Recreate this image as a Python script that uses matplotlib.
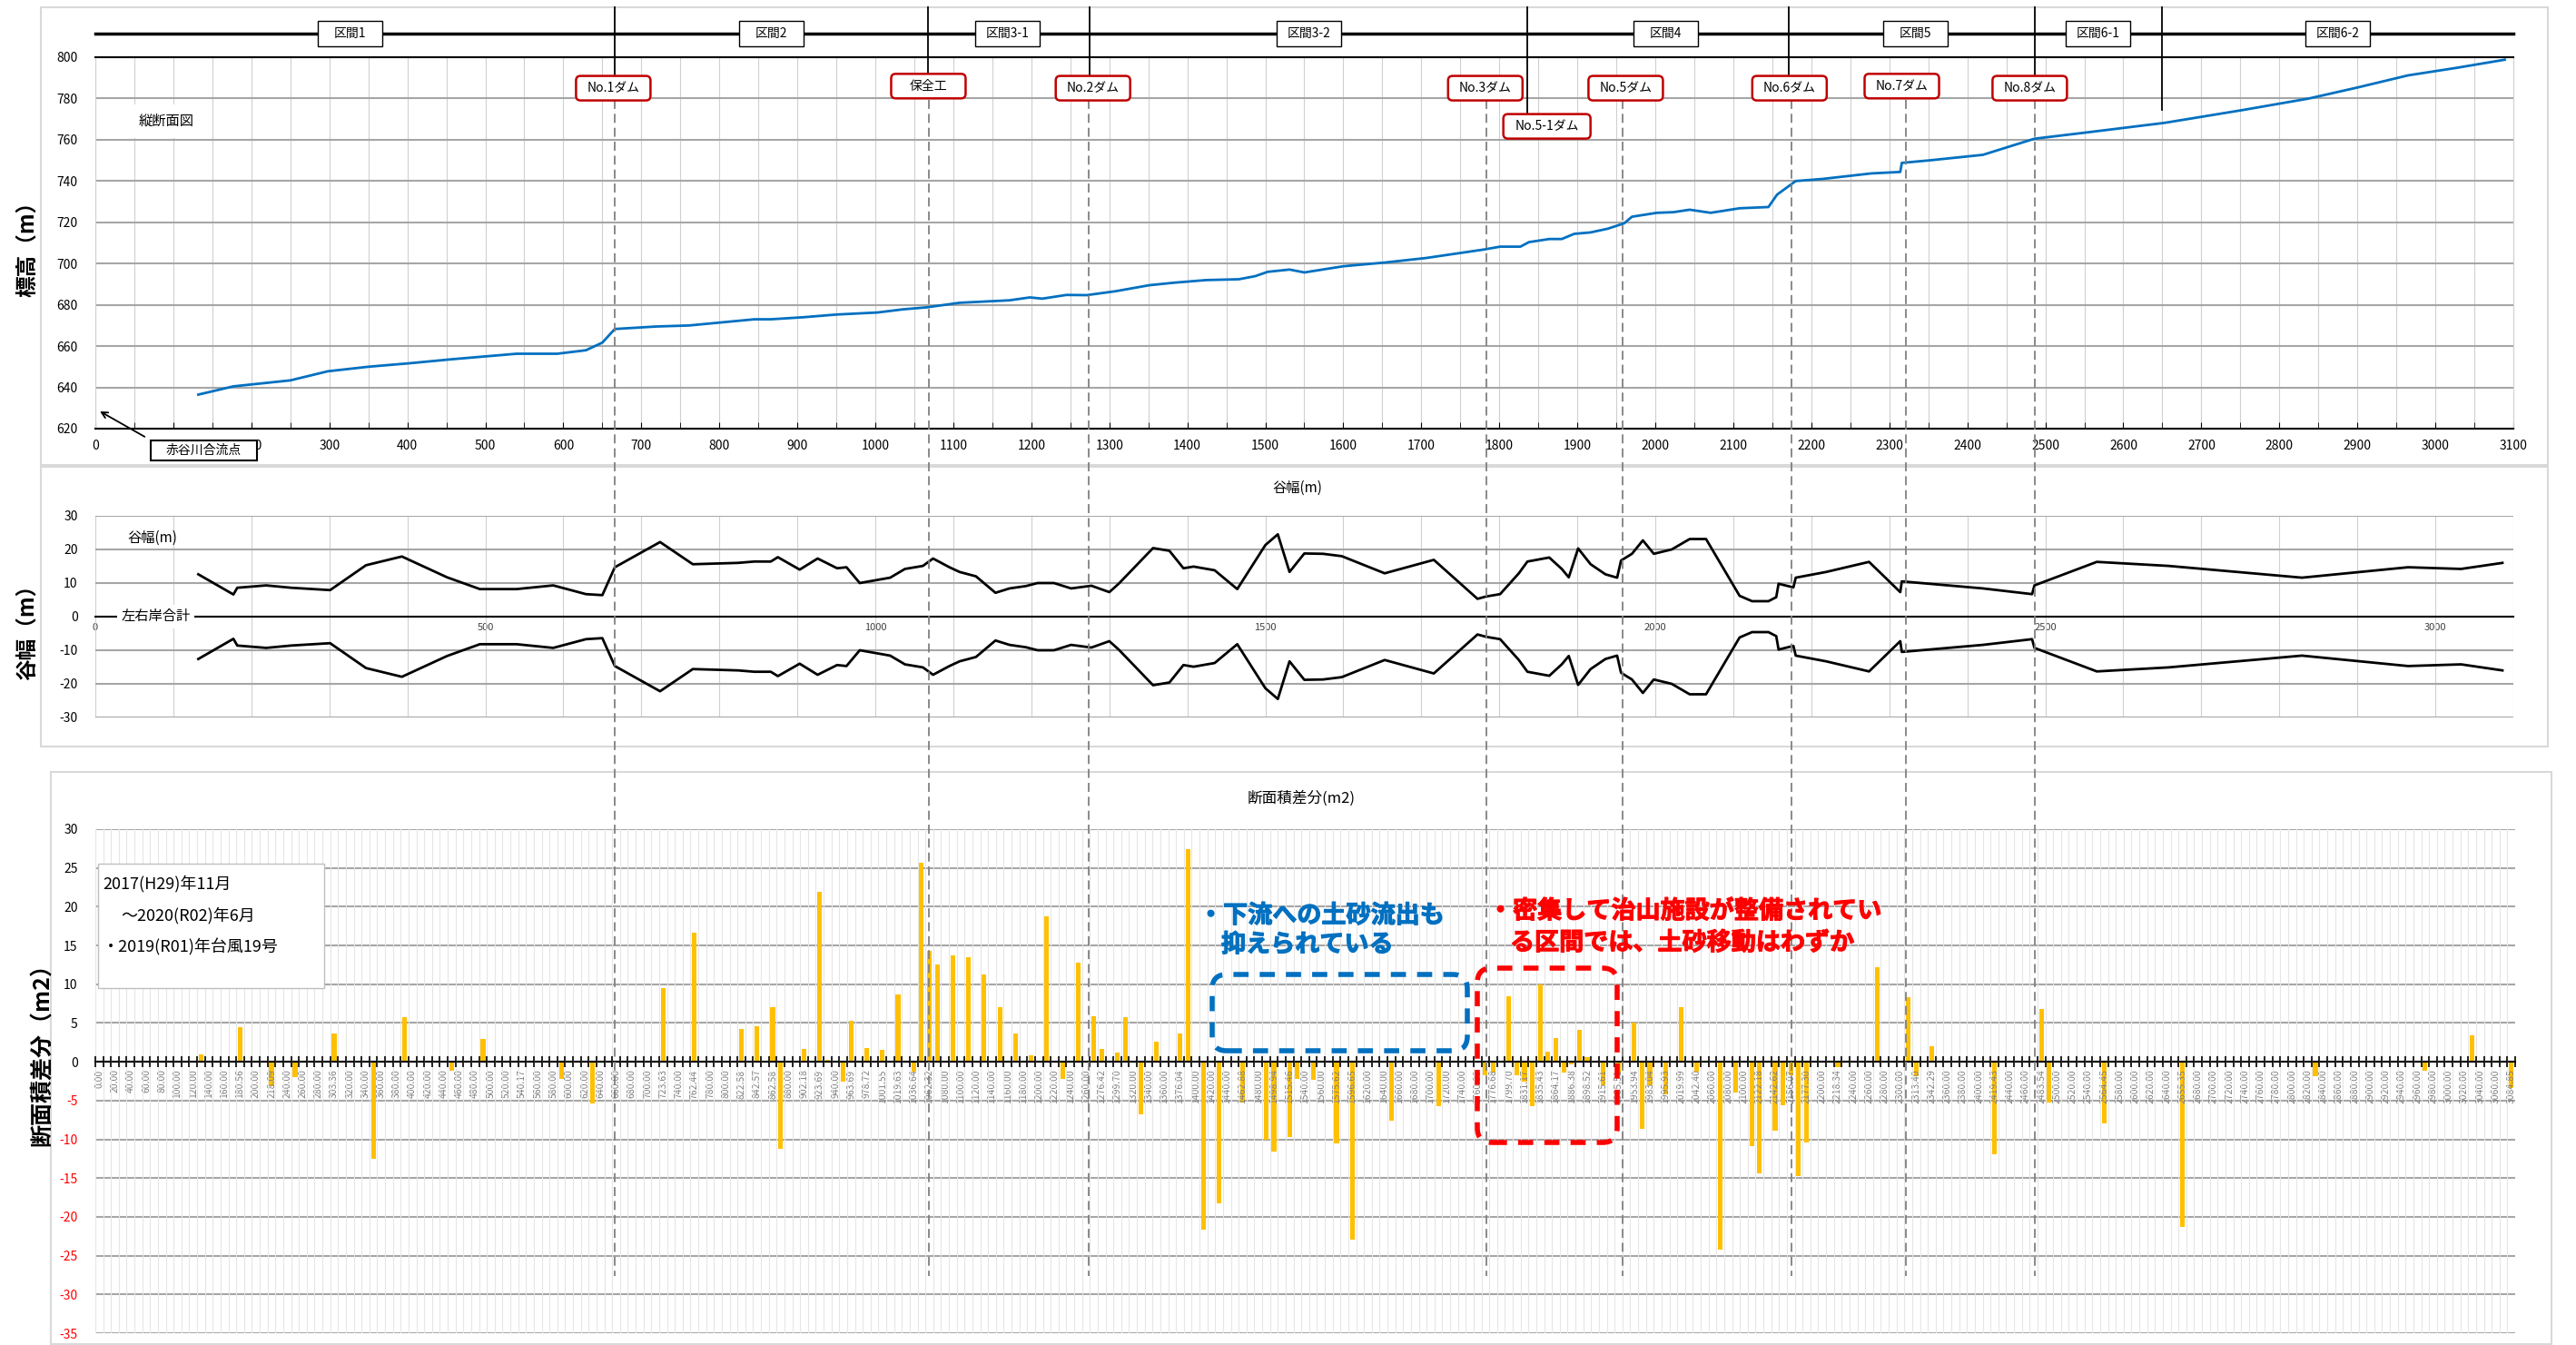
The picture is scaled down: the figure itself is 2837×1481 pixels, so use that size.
import numpy as np
import matplotlib
matplotlib.use("Agg")
import matplotlib.pyplot as plt
import matplotlib.patheffects as pe
from matplotlib.patches import Rectangle, FancyBboxPatch
from matplotlib.lines import Line2D
from matplotlib.transforms import IdentityTransform

plt.rcParams['font.family'] = ['Noto Sans CJK JP', 'DejaVu Sans']
plt.rcParams['axes.unicode_minus'] = False

# ---- 縦断面図 (距離 m, 標高 m)
elev_dist = [132, 177, 250, 298, 350, 403, 456, 540, 592, 629, 650, 666, 719, 761, 803, 845,
             866, 908, 950, 1003, 1035, 1066, 1108, 1172, 1198, 1214, 1245, 1271, 1308, 1351,
             1382, 1424, 1466, 1487, 1503, 1531, 1550, 1600, 1653, 1706, 1780, 1801, 1827,
             1838, 1864, 1880, 1896, 1917, 1939, 1960, 1970, 2002, 2023, 2044, 2071, 2108,
             2145, 2156, 2180, 2214, 2277, 2314, 2316, 2351, 2420, 2486, 2552, 2653, 2753,
             2838, 2901, 2965, 3028, 3089]
elev_val = [636.5, 640.5, 643.4, 647.8, 650.0, 651.7, 653.6, 656.3, 656.3, 658.0, 661.7, 668.3,
            669.5, 670.0, 671.5, 673.0, 673.0, 674.0, 675.3, 676.3, 677.8, 678.8, 681.0, 682.2,
            683.6, 683.0, 684.8, 684.7, 686.6, 689.5, 690.7, 692.0, 692.4, 693.9, 696.0, 697.1,
            695.7, 698.7, 700.5, 702.7, 706.8, 708.2, 708.2, 710.4, 711.9, 711.9, 714.4, 715.1,
            716.9, 719.5, 722.7, 724.6, 724.9, 726.1, 724.6, 726.8, 727.4, 733.4, 740.0, 741.0,
            743.7, 744.4, 748.8, 750.0, 752.7, 760.5, 763.5, 768.2, 774.4, 780.0, 785.4, 791.2,
            794.9, 798.8]

# ---- 谷幅 (距離 m, 谷幅 m)
width_dist = [132, 177, 182, 219, 251, 301, 347, 393, 451, 493, 540, 587, 629, 650, 666, 724,
              766, 824, 845, 866, 875, 903, 926, 951, 963, 980, 1019, 1038, 1061, 1074, 1095,
              1108, 1129, 1154, 1172, 1193, 1208, 1229, 1251, 1277, 1300, 1312, 1356, 1377,
              1395, 1408, 1435, 1464, 1500, 1516, 1531, 1550, 1574, 1598, 1653, 1716, 1772,
              1783, 1801, 1825, 1836, 1864, 1880, 1889, 1901, 1917, 1936, 1951, 1956, 1970,
              1984, 1998, 2021, 2044, 2065, 2108, 2124, 2145, 2155, 2158, 2177, 2180, 2219,
              2274, 2314, 2316, 2420, 2483, 2486, 2566, 2658, 2829, 2965, 3033, 3086]
width_val = [12.6, 6.6, 8.6, 9.3, 8.6, 7.9, 15.3, 17.9, 11.7, 8.2, 8.2, 9.3, 6.7, 6.4, 14.7,
             22.2, 15.6, 16.0, 16.4, 16.4, 17.7, 14.0, 17.3, 14.4, 14.7, 10.0, 11.6, 14.2, 15.1,
             17.3, 14.7, 13.3, 12.0, 7.1, 8.4, 9.1, 10.0, 10.0, 8.4, 9.2, 7.3, 9.8, 20.4, 19.6,
             14.4, 14.9, 13.8, 8.2, 21.3, 24.5, 13.3, 18.8, 18.7, 18.0, 12.9, 16.9, 5.3, 6.0,
             6.7, 12.9, 16.4, 17.6, 14.2, 11.7, 20.3, 15.6, 12.6, 11.6, 16.7, 18.7, 22.7, 18.7,
             20.0, 23.1, 23.1, 6.2, 4.6, 4.6, 5.8, 9.8, 8.7, 11.6, 13.3, 16.3, 7.3, 10.5, 8.4,
             6.7, 9.3, 16.3, 15.1, 11.6, 14.7, 14.2, 16.0]

# ---- 断面積差分 (測点ラベルは1つおきに表示)
station_labels = [
    "0.00", "20.00", "40.00", "60.00", "80.00", "100.00", "120.00", "140.00", "160.00", "180.56",
    "200.00", "218.09", "240.00", "260.00", "280.00", "303.36", "320.00", "340.00", "360.00", "380.00",
    "400.00", "420.00", "440.00", "460.00", "480.00", "500.00", "520.00", "540.17", "560.00", "580.00",
    "600.00", "620.00", "640.00", "660.00", "680.00", "700.00", "723.63", "740.00", "762.44", "780.00",
    "800.00", "822.58", "842.57", "862.58", "880.00", "902.18", "923.69", "940.00", "963.69", "978.72",
    "1001.55", "1019.63", "1036.64", "1062.32", "1080.00", "1100.00", "1120.00", "1140.00", "1160.00", "1180.00",
    "1200.00", "1220.00", "1240.00", "1260.00", "1276.42", "1299.70", "1320.00", "1340.00", "1360.00", "1376.04",
    "1400.00", "1420.00", "1440.00", "1462.88", "1480.00", "1498.94", "1515.46", "1540.00", "1560.00", "1575.62",
    "1596.65", "1620.00", "1640.00", "1660.00", "1680.00", "1700.00", "1720.00", "1740.00", "1760.00", "1776.68",
    "1799.70", "1831.17", "1835.43", "1864.17", "1886.38", "1898.52", "1915.61", "1935.51", "1953.94", "1983.04",
    "1995.93", "2019.99", "2042.40", "2060.00", "2080.00", "2100.00", "2122.18", "2142.62", "2156.07", "2177.30",
    "2200.00", "2218.34", "2240.00", "2260.00", "2280.00", "2300.00", "2313.40", "2342.29", "2360.00", "2380.00",
    "2400.00", "2419.43", "2440.00", "2460.00", "2483.54", "2500.00", "2520.00", "2540.00", "2564.45", "2580.00",
    "2600.00", "2620.00", "2640.00", "2655.35", "2680.00", "2700.00", "2720.00", "2740.00", "2760.00", "2780.00",
    "2800.00", "2820.00", "2840.00", "2860.00", "2880.00", "2900.00", "2920.00", "2940.00", "2960.00", "2980.00",
    "3000.00", "3020.00", "3040.00", "3060.00", "3084.85"]
bar_cat = [13, 18, 22, 25, 30, 35, 39, 45, 49, 59, 63, 72, 76, 82, 84, 86, 87, 90, 92, 93, 95, 96,
           98, 100, 102, 104, 105, 106, 107, 109, 111, 113, 115, 117, 119, 121, 123, 125, 127, 128,
           130, 131, 133, 135, 138, 139, 141, 143, 146, 149, 150, 152, 153, 155, 158, 160, 165,
           171, 177, 178, 180, 181, 182, 183, 184, 185, 186, 187, 188, 189, 190, 192, 194, 196,
           197, 198, 200, 202, 204, 207, 209, 211, 212, 214, 215, 216, 217, 218, 222, 227, 231,
           232, 234, 242, 248, 249, 256, 266, 283, 297, 303, 308]
bar_val = [0.95, 4.45, -3.1, -2.0, 3.7, -12.5, 5.7, -1.1, 2.9, -2.15, -5.4, 9.5, 16.6, 4.2, 4.6,
           7.1, -11.2, 1.6, 21.9, 0.25, -2.6, 5.3, 1.8, 1.5, 8.7, -1.3, 25.7, 14.35, 12.6, 13.7,
           13.5, 11.3, 7.1, 3.7, 0.8, 18.7, -2.25, 12.8, 5.9, 1.6, 1.2, 5.7, -6.8, 2.6, 3.7, 27.4,
           -21.6, -18.3, -5.3, -10.1, -11.6, -9.7, -2.25, -2.3, -10.5, -22.9, -7.6, -5.7, -1.7,
           -1.35, 8.4, -1.7, -2.6, -5.7, 10.0, 1.25, 3.1, -1.35, -0.3, 4.1, 0.55, -3.0, -1.5, 5.0,
           -8.7, -3.0, -4.2, 7.1, -1.3, -24.2, -4.0, -10.9, -14.4, -8.85, -5.6, -1.7, -14.7,
           -10.4, -0.7, 12.15, 8.3, -1.8, 2.05, -11.9, 6.8, -5.2, -8.0, -21.3, -1.8, -1.1, 3.45,
           -3.35]

# ---- 区間・施設
section_names = ["区間1", "区間2", "区間3-1", "区間3-2", "区間4", "区間5", "区間6-1", "区間6-2"]
section_center = [327, 867, 1169, 1556, 2013, 2333, 2568, 2875]
section_bounds = [666, 1068, 1275, 1836, 2171, 2486, 2650]
bound_bottom = [791.5, 791.5, 791.5, 771.8, 791.5, 791.5, 774.5]
dam_names = ["No.1ダム", "保全工", "No.2ダム", "No.3ダム", "No.5-1ダム", "No.5ダム", "No.6ダム", "No.7ダム", "No.8ダム"]
dam_box_x = [664, 1068, 1279, 1782, 1861, 1962, 2172, 2316, 2480]
dam_box_y = [785, 786, 785, 785, 766.5, 785, 785, 786, 785]
dam_line_x = [666, 1069, 1274, 1783, 1958, 2174, 2321, 2486]

W, H = 2837, 1481
fig = plt.figure(figsize=(W / 100, H / 100), dpi=100)
fig.patch.set_facecolor('white')
ID = IdentityTransform()


def fx(x):
    return x / W


def fy(y):
    return 1 - y / H


def ax_rect(l, t, r, b):
    return [fx(l), fy(b), (r - l) / W, (b - t) / H]


def to_px(ax, x, y):
    dx, dy = ax.transData.transform((x, y))
    return dx, H - dy


def add_box(cx, cy, w, h, ec, lw=1.0, rounded=False):
    style = 'round,pad=0,rounding_size=5' if rounded else 'square,pad=0'
    fig.add_artist(FancyBboxPatch((cx - w / 2, H - cy - h / 2), w, h, boxstyle=style,
                                  transform=ID, fc='white', ec=ec, lw=lw, zorder=4))


GRID = '#A6A6A6'
LIGHT = '#D0D0D0'

# 各グラフの外枠
for l, t, r, b in [(45, 8, 2806, 512), (45, 514, 2806, 822), (56, 850, 2810, 1480)]:
    fig.add_artist(Rectangle((l, H - b), r - l, b - t, transform=ID, fill=False,
                             ec='#D9D9D9', lw=1.5, zorder=0))

# ===== 縦断面図 =====
ax1 = fig.add_axes(ax_rect(105, 63, 2768, 472))
ax1.plot(elev_dist, elev_val, color='#0070C0', lw=2, zorder=3)
ax1.set_xlim(0, 3100)
ax1.set_ylim(620, 800)
ax1.set_xticks(np.arange(0, 3101, 100))
ax1.set_xticks(np.arange(50, 3100, 100), minor=True)
ax1.set_yticks(np.arange(620, 801, 20))
ax1.grid(axis='x', which='both', color=LIGHT, lw=0.8)
ax1.grid(axis='y', color=GRID, lw=1.5)
ax1.tick_params(axis='x', which='both', direction='in', length=5, color='k', labelsize=10, pad=9)
ax1.tick_params(axis='y', length=0, labelsize=10, pad=14)
for s in ['left', 'right']:
    ax1.spines[s].set_color(LIGHT)
for s in ['top', 'bottom']:
    ax1.spines[s].set_linewidth(1.5)

# 区間の帯
ax1.plot([0, 3100], [811.5, 811.5], color='k', lw=2.5, clip_on=False)
for name, c in zip(section_names, section_center):
    px, py = to_px(ax1, c, 811.5)
    add_box(px, py, 71, 28, 'k', lw=1.0)
    fig.text(fx(px), fy(py), name, ha='center', va='center', fontsize=10, zorder=5)
for b, bot in zip(section_bounds, bound_bottom):
    ax1.plot([b, b], [824, bot], color='k', lw=1.3, clip_on=False)

# 施設の表示
for name, x, y in zip(dam_names, dam_box_x, dam_box_y):
    px, py = to_px(ax1, x, y)
    add_box(px, py, max(82, 12 * len(name)), 27, '#C00000', lw=1.8, rounded=True)
    fig.text(fx(px), fy(py), name, ha='center', va='center', fontsize=10, zorder=5)

ax1.text(91, 769, '縦断面図', ha='center', va='center', fontsize=11,
         bbox=dict(fc='white', ec='none', pad=7), zorder=4)
px, py = to_px(ax1, 139, 609.4)
add_box(px, py, 117, 22, 'k', lw=1.5)
fig.text(fx(px), fy(py), '赤谷川合流点', ha='center', va='center', fontsize=10, zorder=5)
ax1.annotate('', xy=(3, 629), xytext=(66, 615.5), annotation_clip=False,
             arrowprops=dict(arrowstyle='->', color='k', lw=1.3, mutation_scale=12))
fig.text(fx(30), fy(268), '標高（m）', rotation=90, ha='center', va='center',
         fontsize=17, fontweight='bold')

# ===== 谷幅 =====
ax2 = fig.add_axes(ax_rect(105, 568, 2768, 790))
ax2.plot(width_dist, width_val, color='k', lw=2)
ax2.plot(width_dist, [-v for v in width_val], color='k', lw=2)
ax2.set_xlim(0, 3100)
ax2.set_ylim(-30, 30)
ax2.set_yticks(np.arange(-30, 31, 10))
ax2.set_xticks(np.arange(0, 3001, 500))
ax2.set_xticks(np.arange(0, 3101, 100), minor=True)
ax2.xaxis.remove_overlapping_locs = False
ax2.grid(axis='x', which='minor', color=LIGHT, lw=0.8)
ax2.grid(axis='y', color=GRID, lw=1.5)
ax2.spines['bottom'].set_position(('data', 0))
ax2.spines['bottom'].set_linewidth(1.5)
for s in ['top', 'left', 'right']:
    ax2.spines[s].set_visible(False)
ax2.tick_params(axis='x', which='both', length=0, labelsize=8, pad=5, labelcolor='#404040')
ax2.tick_params(axis='y', length=0, labelsize=10, pad=14)
ax2.text(41, 23.5, '谷幅(m)', ha='left', va='center', fontsize=11)
ax2.text(33, 0, '左右岸合計', ha='left', va='center', fontsize=11,
         bbox=dict(fc='white', ec='none', pad=3), zorder=4)
fig.text(fx(1429), fy(537), '谷幅(m)', ha='center', va='center', fontsize=11)
fig.text(fx(30), fy(690), '谷幅（m）', rotation=90, ha='center', va='center',
         fontsize=17, fontweight='bold')

# ===== 断面積差分 =====
n_cat = 2 * len(station_labels) - 1
ax3 = fig.add_axes(ax_rect(105, 913, 2770, 1468))
ax3.bar(bar_cat, bar_val, width=0.6, color='#FFC000', zorder=1)
ax3.set_xlim(-0.5, n_cat - 0.5)
ax3.set_ylim(-35, 30)
ax3.set_xticks(np.arange(0, n_cat, 2), labels=station_labels)
ax3.set_xticks(np.arange(-0.5, n_cat, 1), minor=True)
yt = list(range(-35, 31, 5))
ax3.set_yticks(yt, labels=[str(v) for v in yt])
for lab, v in zip(ax3.get_yticklabels(), yt):
    lab.set_color('#FF0000' if v < 0 else 'black')
ax3.grid(axis='x', which='minor', color='#E6E6E6', lw=0.8)
ax3.grid(axis='y', color=GRID, lw=1.5)
ax3.set_axisbelow(True)
ax3.xaxis.set_zorder(3)
ax3.spines['bottom'].set_position(('data', 0))
ax3.spines['bottom'].set_linewidth(1.5)
for s in ['top', 'left', 'right']:
    ax3.spines[s].set_visible(False)
ax3.tick_params(axis='x', which='major', length=0, pad=6, labelrotation=90,
                labelsize=7.5, labelcolor='#7F7F7F')
ax3.tick_params(axis='x', which='minor', length=9, direction='inout', width=1.2, color='k')
ax3.tick_params(axis='y', length=0, labelsize=10, pad=14)
fig.text(fx(1433), fy(879), '断面積差分(m2)', ha='center', va='center', fontsize=12)
fig.text(fx(47), fy(1155), '断面積差分（m2）', rotation=90, ha='center', va='center',
         fontsize=18, fontweight='bold')

# 期間の表示
fig.add_artist(Rectangle((108, H - 1088), 249, 137, transform=ID, fc='white',
                         ec='#BFBFBF', lw=1.0, zorder=4))
fig.text(fx(113), fy(973), '2017(H29)年11月', ha='left', va='center', fontsize=13, zorder=5)
fig.text(fx(133), fy(1008), '～2020(R02)年6月', ha='left', va='center', fontsize=13, zorder=5)
fig.text(fx(113), fy(1043), '・2019(R01)年台風19号', ha='left', va='center', fontsize=13, zorder=5)

# コメント
BLUE, RED = '#0070C0', '#FF0000'
for txt, x, y, c in [('・下流への土砂流出も', 1320, 1008, BLUE), ('抑えられている', 1345, 1040, BLUE),
                     ('・密集して治山施設が整備されてい', 1639, 1003, RED),
                     ('る区間では、土砂移動はわずか', 1663, 1038, RED)]:
    fig.text(fx(x), fy(y), txt, ha='left', va='center', fontsize=19.5, fontweight='bold',
             color=c, zorder=6, path_effects=[pe.withStroke(linewidth=0.8, foreground=c)])
for l, t, r, b, c in [(1335, 1073, 1616, 1157, BLUE), (1627, 1066, 1781, 1258, RED)]:
    fig.add_artist(FancyBboxPatch((l, H - b), r - l, b - t, boxstyle='round,pad=0,rounding_size=16',
                                  transform=ID, fill=False, ec=c, lw=4, ls=(0, (3, 2.2)), zorder=6))

# 施設位置の破線
for d in dam_line_x:
    px, _ = to_px(ax1, d, 700)
    fig.add_artist(Line2D([px, px], [H - 110, H - 1405], transform=ID, color='#808080',
                          lw=1.3, ls=(0, (5.5, 3)), zorder=2))

fig.savefig('out.png', dpi=100)
